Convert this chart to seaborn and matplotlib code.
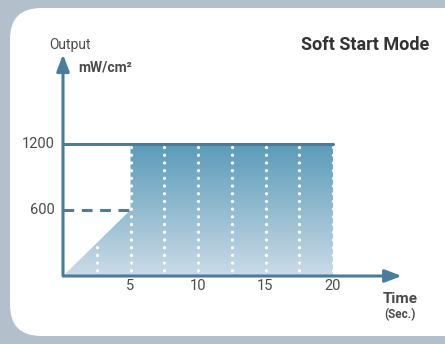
import numpy as np
import seaborn as sns
import matplotlib.pyplot as plt
from matplotlib.patches import FancyBboxPatch, Polygon
from matplotlib.colors import LinearSegmentedColormap

sns.set_style("white")
plt.rcParams['font.family'] = ['Roboto', 'DejaVu Sans']

# data: soft start profile
time = [0, 5, 5, 20]
output = [0, 600, 1200, 1200]
xticks = [5, 10, 15, 20]
yticks = [600, 1200]
grid_x = [2.5, 5, 7.5, 10, 12.5, 15, 17.5, 20]

blue = '#4a7c9b'
W, H = 445, 344
fig = plt.figure(figsize=(W / 100, H / 100), dpi=100, facecolor='#b3bfca')

# white card
card = FancyBboxPatch((10 / W, 8 / H), 470 / W, 328 / H,
                      boxstyle="round,pad=0,rounding_size=0.07",
                      transform=fig.transFigure, facecolor='white',
                      edgecolor='none', mutation_aspect=W / H, zorder=-10)
fig.patches.append(card)

# axes placed so that x=0 -> px 63, 1 sec = 13.5 px; y=0 -> px 276, 1200 -> px 144
x0, y0 = 63, 276
pxs, pyu = 13.5, 132 / 1200
xmax, ymax = 26, 2050
ax = fig.add_axes([x0 / W, (H - y0) / H, xmax * pxs / W, ymax * pyu / H])
ax.set_xlim(0, xmax)
ax.set_ylim(0, ymax)
ax.patch.set_alpha(0)
for s in ax.spines.values():
    s.set_visible(False)
ax.set_xticks([])
ax.set_yticks([])

# gradient fill under profile
poly = Polygon(list(zip(time, output)) + [(20, 0)], closed=True,
               facecolor='none', edgecolor='none', transform=ax.transData)
ax.add_patch(poly)
grad = np.linspace(0, 1, 256).reshape(-1, 1)
cmap = LinearSegmentedColormap.from_list('g', ['#cbdbe7', '#5b9bb9'])
im = ax.imshow(grad, extent=[0, 20, 0, 1200], origin='lower',
               aspect='auto', cmap=cmap, zorder=1)
im.set_clip_path(poly)
ax.set_xlim(0, xmax)
ax.set_ylim(0, ymax)

# white dotted verticals
for gx in grid_x:
    ax.plot([gx, gx], [-20, 1200], color='white', lw=2.4,
            linestyle=(0, (0.01, 2.3)), dash_capstyle='round', zorder=4)

# level lines
sns.lineplot(x=[0, 20], y=[1200, 1200], color=blue, lw=2.2, ax=ax, zorder=3)
ax.plot([0, 5], [600, 600], color=blue, lw=2.2, linestyle=(0, (3.5, 2.5)), zorder=3)

# axis arrows
ax.annotate('', xy=(0, ymax - 10), xytext=(0, -25),
            arrowprops=dict(arrowstyle='-|>,head_length=1.0,head_width=0.38',
                            color=blue, lw=2.2), zorder=5)
ax.annotate('', xy=(25.3, 0), xytext=(-0.15, 0),
            arrowprops=dict(arrowstyle='-|>,head_length=1.0,head_width=0.38',
                            color=blue, lw=2.2), zorder=3)

tc = '#4a4a4a'
for t in xticks:
    ax.text(t, -95, str(t), ha='center', va='center', fontsize=10.5, color=tc)
for t in yticks:
    ax.text(-0.6, t, str(t), ha='right', va='center', fontsize=10.5, color=tc)

fig.text(70 / W, 1 - 45 / H, 'Output', ha='center', va='center', fontsize=10, color=tc)
fig.text(78 / W, 1 - 68 / H, 'mW/cm²', ha='left', va='center', fontsize=10,
         color=tc, fontweight='bold')
fig.text(365 / W, 1 - 45 / H, 'Soft Start Mode', ha='center', va='center',
         fontsize=13, color='#333333', fontweight='bold')
fig.text(400 / W, 1 - 299 / H, 'Time', ha='center', va='center', fontsize=11,
         color=tc, fontweight='bold')
fig.text(400 / W, 1 - 315 / H, '(Sec.)', ha='center', va='center', fontsize=8.5,
         color=tc, fontweight='bold')

fig.savefig('out.png', dpi=100, facecolor=fig.get_facecolor())
